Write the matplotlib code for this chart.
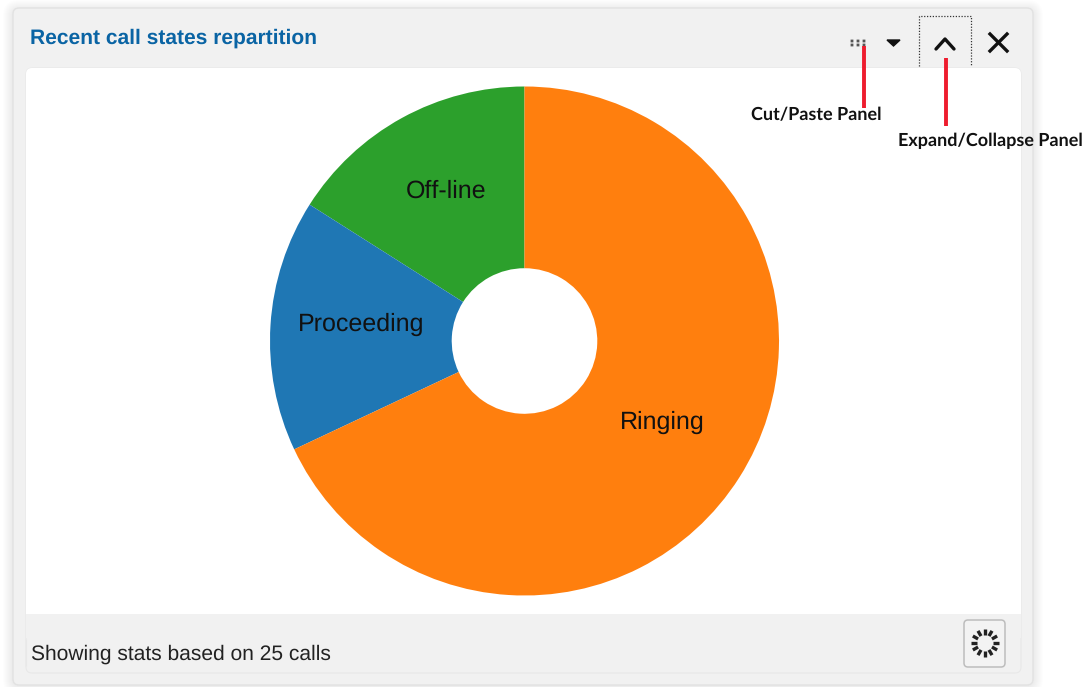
import math
import matplotlib
matplotlib.use("Agg")
import matplotlib.pyplot as plt
from matplotlib.patches import FancyBboxPatch, Rectangle

W, H = 1088, 687

states = ["Off-line", "Proceeding", "Ringing"]
calls = [4, 4, 17]
colors = ["#2ca02c", "#1f77b4", "#ff7f0e"]
title = "Recent call states repartition"
footer = "Showing stats based on 25 calls"
notes = ["Cut/Paste Panel", "Expand/Collapse Panel"]

plt.rcParams["font.family"] = ["Liberation Sans", "DejaVu Sans"]
plt.rcParams["text.hinting"] = "no_hinting"
plt.rcParams["text.hinting_factor"] = 1


def box(ax, x0, y0, x1, y1, r, **kw):
    p = FancyBboxPatch((x0 + r, y0 + r), x1 - x0 - 2 * r, y1 - y0 - 2 * r,
                       boxstyle="round,pad=%f,rounding_size=%f" % (r, r), **kw)
    ax.add_patch(p)


fig = plt.figure(figsize=(W / 100, H / 100), dpi=100, facecolor="white")

# full figure axes in pixel coords, y going down
bg = fig.add_axes([0, 0, 1, 1], zorder=0)
bg.set_xlim(0, W)
bg.set_ylim(H, 0)
bg.axis("off")

# soft shadow round the panel
for i in range(10, 0, -1):
    box(bg, 13 - i, 8 - i + 2, 1033 + i, 685 + i, 6 + i, fc="black", ec="none", alpha=0.006)

box(bg, 13, 8, 1033, 685, 6, fc="#f1f1f1", ec="#e2e2e2", lw=1)
box(bg, 26, 68, 1021, 673, 6, fc="#f1f1f1", ec="#e8e8e8", lw=0.8)
box(bg, 26, 68, 1021, 630, 6, fc="white", ec="none")
bg.add_patch(Rectangle((26, 614), 995, 24, fc="#f1f1f1", ec="none"))
bg.plot([26, 26], [640, 665], color="#e8e8e8", lw=0.8)

bg.text(30, 38.5, title, color="#0a64a4", fontsize=15.3, fontweight="bold", va="center")
bg.text(31, 654, footer, color="#222222", fontsize=15.35, va="center")

# toolbar icons
for x in [852, 858, 864]:
    for y in [41, 45]:
        bg.add_patch(Rectangle((x - 1.4, y - 1.4), 2.8, 2.8, fc="#555555", ec="none", snap=False))
bg.fill([887, 900, 893.5], [40, 40, 46], color="#111111")
bg.plot([936, 945, 954], [49, 39, 49], color="#111111", lw=2.4, solid_capstyle="round")
bg.plot([990, 1007], [34, 51], color="#111111", lw=2.4)
bg.plot([990, 1007], [51, 34], color="#111111", lw=2.4)
bg.plot([919, 919, 971, 971], [66, 16, 16, 66], color="#333333", lw=0.9, ls=(0, (1, 1.3)))

# red callouts
bg.plot([864, 864], [46, 108], color="#ee1c2e", lw=2.8, solid_capstyle="butt")
bg.plot([946, 946], [58, 126], color="#ee1c2e", lw=2.8, solid_capstyle="butt")
bg.text(816, 115, notes[0], family="Lato", fontweight="bold", fontsize=12.7,
        color="#111111", ha="center", va="center")
bg.text(990, 141, notes[1], family="Lato", fontweight="bold", fontsize=12.7,
        color="#111111", ha="center", va="center")

# refresh button
box(bg, 964, 620, 1005, 667, 4, fc="#f3f3f3", ec="#bdbdbd", lw=1.1)
for i in range(12):
    a = i * math.pi / 6
    bg.plot([985 + 8 * math.cos(a), 985 + 14 * math.cos(a)],
            [643 + 8 * math.sin(a), 643 + 14 * math.sin(a)],
            color="#222222", lw=2.4, solid_capstyle="butt")

# donut, centre (524.5, 341), radius 254.5
ax = fig.add_axes([270 / W, (H - 596) / H, 509 / W, 510 / H], zorder=1)
ax.patch.set_alpha(0)
wedges, texts = ax.pie(calls, labels=states, colors=colors, startangle=90, counterclock=True,
                       radius=1, labeldistance=0.643,
                       wedgeprops={"width": 0.714, "edgecolor": "none"},
                       textprops={"fontsize": 17.65, "color": "#111111"})
for t in texts:
    t.set_ha("center")
    t.set_va("center")
    x, y = t.get_position()
    t.set_position((x, y + 6 / 255))  # labels sit a bit above the centroid
ax.set_xlim(-1, 1)
ax.set_ylim(-1, 1)

fig.savefig("out.png", dpi=100)
